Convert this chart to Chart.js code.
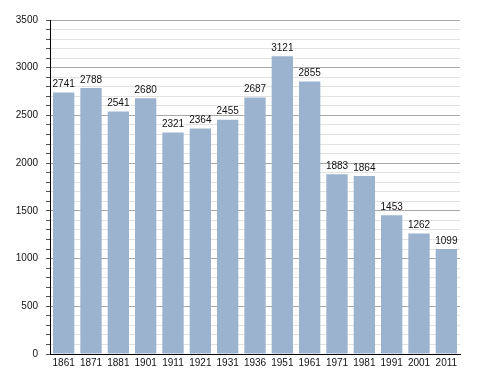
<!DOCTYPE html>
<html>
<head>
<meta charset="utf-8">
<script src="https://cdn.jsdelivr.net/npm/chart.js@4.4.1/dist/chart.umd.min.js"></script>
<style>
  html, body { margin: 0; padding: 0; background: #fff; }
  #wrap { width: 488px; height: 373px; }
</style>
</head>
<body>
<div id="wrap"><canvas id="pop-chart"></canvas></div>
<script>
const years = ['1861', '1871', '1881', '1901', '1911', '1921', '1931', '1936', '1951', '1961', '1971', '1981', '1991', '2001', '2011'];
const population = [2741, 2788, 2541, 2680, 2321, 2364, 2455, 2687, 3121, 2855, 1883, 1864, 1453, 1262, 1099];

Chart.defaults.font.family = "'Liberation Sans', Arial, sans-serif";
Chart.defaults.font.size = 10;
Chart.defaults.color = '#111';

// value labels above each bar
const bar_labels = {
    id: 'bar_labels',
    afterDatasetsDraw(chart) {
        const ctx = chart.ctx;
        const meta = chart.getDatasetMeta(0);
        ctx.save();
        ctx.font = "10px 'Liberation Sans', Arial, sans-serif";
        ctx.fillStyle = '#111';
        ctx.textAlign = 'center';
        ctx.textBaseline = 'bottom';
        meta.data.forEach((bar, i) => {
            ctx.fillText(population[i], bar.x, bar.y - 3);
        });
        ctx.restore();
    }
};

const ctx = document.getElementById('pop-chart').getContext('2d');

const pop_chart = new Chart(ctx, {
    type: 'bar',
    data: {
        labels: years,
        datasets: [{
            data: population,
            backgroundColor: '#9bb3cf',
            borderWidth: 0,
            barPercentage: 0.78,
            categoryPercentage: 1.0
        }]
    },
    options: {
        responsive: true,
        maintainAspectRatio: false,
        animation: false,
        layout: { padding: { left: 0, top: 20, right: 28, bottom: 0 } },
        plugins: {
            legend: { display: false },
            tooltip: { enabled: false }
        },
        scales: {
            x: {
                grid: { display: false, drawTicks: false },
                border: { color: '#000', width: 1 },
                ticks: { padding: 3, maxRotation: 0, autoSkip: false },
                afterFit: (scale) => { scale.height = 19; }
            },
            y: {
                min: 0,
                max: 3500,
                border: { color: '#000', width: 1 },
                grid: {
                    color: (c) => (c.tick && c.tick.value % 500 === 0) ? '#a8a8a8' : '#e2e2e2',
                    tickColor: '#555',
                    tickLength: 4
                },
                ticks: {
                    stepSize: 100,
                    maxTicksLimit: 100,
                    autoSkip: false,
                    padding: 8,
                    callback: (v) => (v % 500 === 0) ? v : ''
                },
                afterFit: (scale) => { scale.width = 50; }
            }
        }
    },
    plugins: [bar_labels]
});
</script>
</body>
</html>
